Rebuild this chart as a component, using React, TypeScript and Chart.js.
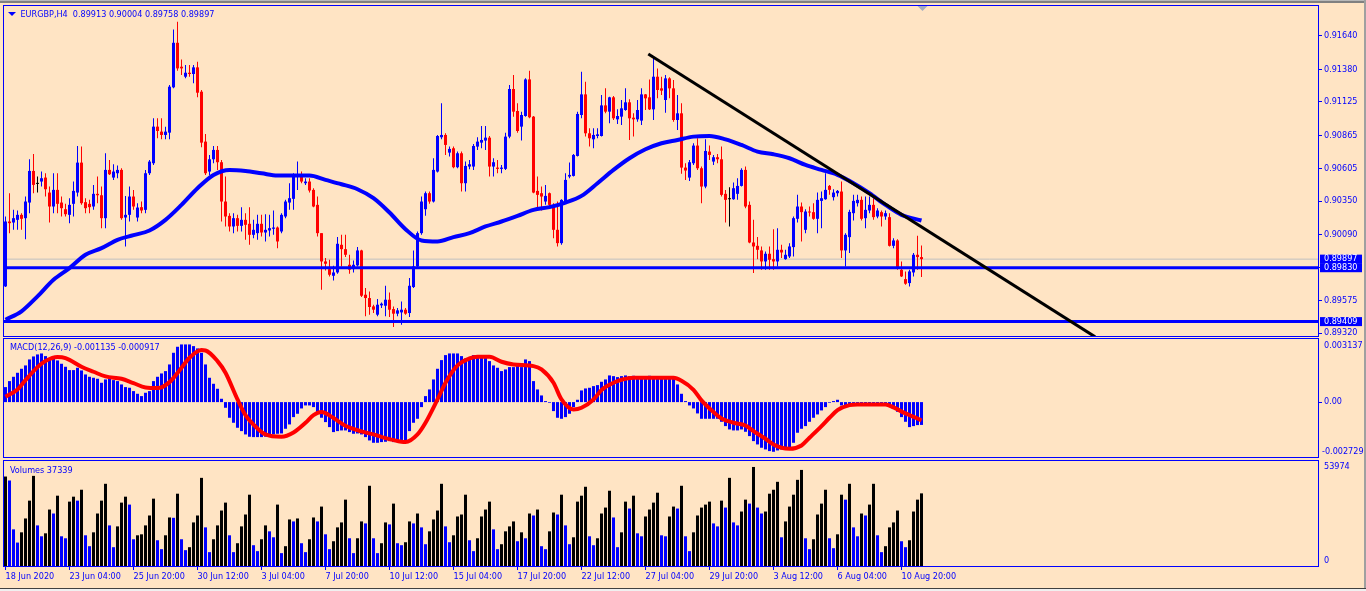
import React, { useEffect, useRef } from 'react';
import { Chart, registerables } from 'chart.js';

Chart.register(...registerables);

// ---------------- DATA ----------------
const SYMBOL = 'EURGBP,H4';

// H4 candles, [open, high, low, close]
const CANDLES: number[][] = [
  [0.89684, 0.90230, 0.89679, 0.90191], [0.90191, 0.90412, 0.90100, 0.90178], [0.90183, 0.90282, 0.90126, 0.90217], [0.90204, 0.90277, 0.90126, 0.90243], [0.90243, 0.90256, 0.90126, 0.90212],
  [0.90217, 0.90386, 0.90053, 0.90347], [0.90339, 0.90677, 0.90256, 0.90586], [0.90586, 0.90719, 0.90412, 0.90477], [0.90485, 0.90542, 0.90417, 0.90485], [0.90503, 0.90581, 0.90464, 0.90529],
  [0.90534, 0.90568, 0.90386, 0.90443], [0.90417, 0.90464, 0.90183, 0.90308], [0.90308, 0.90568, 0.90256, 0.90438], [0.90438, 0.90568, 0.90256, 0.90329], [0.90339, 0.90386, 0.90230, 0.90295],
  [0.90287, 0.90329, 0.90230, 0.90248], [0.90243, 0.90373, 0.90178, 0.90321], [0.90329, 0.90503, 0.90230, 0.90430], [0.90417, 0.90781, 0.90386, 0.90651], [0.90651, 0.90776, 0.90321, 0.90334],
  [0.90342, 0.90373, 0.90256, 0.90295], [0.90329, 0.90360, 0.90256, 0.90303], [0.90308, 0.90477, 0.90282, 0.90407], [0.90407, 0.90542, 0.90334, 0.90396], [0.90396, 0.90464, 0.90139, 0.90217],
  [0.90217, 0.90724, 0.90139, 0.90594], [0.90594, 0.90672, 0.90555, 0.90560], [0.90534, 0.90638, 0.90516, 0.90581], [0.90568, 0.90628, 0.90529, 0.90594], [0.90594, 0.90607, 0.90204, 0.90217],
  [0.90222, 0.90391, 0.89996, 0.90243], [0.90243, 0.90464, 0.90191, 0.90386], [0.90386, 0.90438, 0.90282, 0.90308], [0.90222, 0.90334, 0.90191, 0.90300], [0.90303, 0.90347, 0.90256, 0.90277],
  [0.90282, 0.90594, 0.90256, 0.90568], [0.90568, 0.90672, 0.90555, 0.90659], [0.90646, 0.90997, 0.90633, 0.90932], [0.90932, 0.90997, 0.90841, 0.90898], [0.90893, 0.90997, 0.90833, 0.90867],
  [0.90867, 0.90932, 0.90833, 0.90893], [0.90885, 0.91257, 0.90833, 0.91244], [0.91239, 0.91691, 0.91231, 0.91587], [0.91587, 0.91751, 0.91369, 0.91387], [0.91400, 0.91457, 0.91335, 0.91387],
  [0.91322, 0.91413, 0.91309, 0.91353], [0.91353, 0.91413, 0.91322, 0.91343], [0.91343, 0.91413, 0.91270, 0.91395], [0.91395, 0.91439, 0.91161, 0.91197], [0.91205, 0.91218, 0.90771, 0.90807],
  [0.90815, 0.90875, 0.90555, 0.90568], [0.90581, 0.90711, 0.90555, 0.90677], [0.90677, 0.90781, 0.90646, 0.90750], [0.90750, 0.90781, 0.90594, 0.90654], [0.90654, 0.90672, 0.90191, 0.90347],
  [0.90347, 0.90542, 0.90152, 0.90230], [0.90235, 0.90256, 0.90113, 0.90152], [0.90152, 0.90256, 0.90100, 0.90217], [0.90217, 0.90243, 0.90113, 0.90157], [0.90157, 0.90303, 0.90113, 0.90204],
  [0.90204, 0.90256, 0.90048, 0.90165], [0.90173, 0.90303, 0.90009, 0.90087], [0.90087, 0.90204, 0.90061, 0.90126], [0.90100, 0.90243, 0.90048, 0.90173], [0.90173, 0.90243, 0.90074, 0.90105],
  [0.90105, 0.90248, 0.90035, 0.90126], [0.90121, 0.90243, 0.90074, 0.90139], [0.90134, 0.90277, 0.90087, 0.90144], [0.90144, 0.90152, 0.89983, 0.90035], [0.90113, 0.90256, 0.90100, 0.90243],
  [0.90230, 0.90360, 0.90217, 0.90347], [0.90339, 0.90490, 0.90282, 0.90373], [0.90368, 0.90568, 0.90282, 0.90555], [0.90547, 0.90659, 0.90438, 0.90555], [0.90542, 0.90581, 0.90490, 0.90503],
  [0.90490, 0.90529, 0.90477, 0.90503], [0.90503, 0.90529, 0.90417, 0.90433], [0.90438, 0.90451, 0.90303, 0.90308], [0.90321, 0.90386, 0.90074, 0.90100], [0.90100, 0.90100, 0.89658, 0.89879],
  [0.89879, 0.89905, 0.89809, 0.89861], [0.89819, 0.89892, 0.89762, 0.89775], [0.89767, 0.89845, 0.89731, 0.89793], [0.89793, 0.90069, 0.89783, 0.90017], [0.90009, 0.90087, 0.89840, 0.89975],
  [0.89975, 0.90087, 0.89913, 0.89931], [0.89853, 0.89931, 0.89783, 0.89814], [0.89819, 0.89887, 0.89793, 0.89853], [0.89848, 0.89991, 0.89840, 0.89965], [0.89965, 0.89970, 0.89601, 0.89611],
  [0.89619, 0.89671, 0.89450, 0.89593], [0.89593, 0.89645, 0.89463, 0.89523], [0.89528, 0.89541, 0.89476, 0.89502], [0.89463, 0.89585, 0.89450, 0.89541], [0.89536, 0.89559, 0.89515, 0.89549],
  [0.89533, 0.89689, 0.89450, 0.89580], [0.89580, 0.89637, 0.89445, 0.89502], [0.89507, 0.89528, 0.89367, 0.89471], [0.89471, 0.89515, 0.89450, 0.89497], [0.89481, 0.89567, 0.89385, 0.89502],
  [0.89502, 0.89515, 0.89463, 0.89471], [0.89476, 0.89749, 0.89445, 0.89689], [0.89679, 0.89965, 0.89671, 0.89840], [0.89840, 0.90113, 0.89827, 0.90100], [0.90100, 0.90386, 0.90087, 0.90347],
  [0.90287, 0.90425, 0.90235, 0.90412], [0.90412, 0.90425, 0.90329, 0.90347], [0.90347, 0.90685, 0.90339, 0.90594], [0.90581, 0.90867, 0.90573, 0.90859], [0.90849, 0.91114, 0.90833, 0.90867],
  [0.90867, 0.90880, 0.90711, 0.90789], [0.90729, 0.90776, 0.90698, 0.90758], [0.90763, 0.90776, 0.90607, 0.90615], [0.90615, 0.90737, 0.90607, 0.90724], [0.90724, 0.90737, 0.90425, 0.90490],
  [0.90490, 0.90659, 0.90425, 0.90625], [0.90620, 0.90672, 0.90599, 0.90638], [0.90620, 0.90797, 0.90594, 0.90781], [0.90776, 0.90849, 0.90750, 0.90815], [0.90807, 0.90937, 0.90763, 0.90828],
  [0.90823, 0.90937, 0.90750, 0.90846], [0.90846, 0.90859, 0.90542, 0.90620], [0.90620, 0.90685, 0.90542, 0.90654], [0.90612, 0.90672, 0.90568, 0.90602], [0.90602, 0.90633, 0.90568, 0.90612],
  [0.90602, 0.90885, 0.90594, 0.90854], [0.90854, 0.91257, 0.90841, 0.91226], [0.91226, 0.91335, 0.91010, 0.91049], [0.91054, 0.91114, 0.90885, 0.90898], [0.90932, 0.91049, 0.90823, 0.91023],
  [0.91015, 0.91309, 0.91010, 0.91301], [0.91301, 0.91369, 0.90997, 0.91005], [0.91010, 0.91015, 0.90412, 0.90417], [0.90430, 0.90542, 0.90282, 0.90399], [0.90412, 0.90464, 0.90277, 0.90386],
  [0.90347, 0.90477, 0.90321, 0.90391], [0.90412, 0.90417, 0.90295, 0.90321], [0.90321, 0.90334, 0.90061, 0.90126], [0.90126, 0.90347, 0.89996, 0.90022], [0.90022, 0.90365, 0.90009, 0.90360],
  [0.90347, 0.90568, 0.90339, 0.90516], [0.90542, 0.90651, 0.90529, 0.90555], [0.90547, 0.90719, 0.90542, 0.90711], [0.90703, 0.91049, 0.90698, 0.91031], [0.91023, 0.91361, 0.90997, 0.91184],
  [0.91184, 0.91283, 0.90854, 0.90880], [0.90880, 0.90919, 0.90776, 0.90841], [0.90833, 0.90919, 0.90763, 0.90867], [0.90859, 0.90919, 0.90841, 0.90872], [0.90859, 0.91179, 0.90854, 0.91098],
  [0.91098, 0.91231, 0.91036, 0.91049], [0.91049, 0.91166, 0.90958, 0.91161], [0.91161, 0.91171, 0.90984, 0.90997], [0.90989, 0.91067, 0.90953, 0.91015], [0.91010, 0.91140, 0.90945, 0.91075],
  [0.91062, 0.91231, 0.91057, 0.91122], [0.91122, 0.91145, 0.90828, 0.90997], [0.91002, 0.91036, 0.90854, 0.90989], [0.90989, 0.91140, 0.90971, 0.91062], [0.90979, 0.91231, 0.90945, 0.91184],
  [0.91184, 0.91187, 0.91062, 0.91153], [0.91161, 0.91301, 0.91062, 0.91067], [0.91067, 0.91483, 0.90984, 0.91322], [0.91322, 0.91387, 0.91153, 0.91218], [0.91231, 0.91322, 0.91179, 0.91213],
  [0.91140, 0.91335, 0.91041, 0.91309], [0.91309, 0.91317, 0.91153, 0.91231], [0.91231, 0.91296, 0.90971, 0.90984], [0.90984, 0.91179, 0.90906, 0.91036], [0.91036, 0.91114, 0.90563, 0.90612],
  [0.90612, 0.90646, 0.90516, 0.90589], [0.90534, 0.90672, 0.90508, 0.90654], [0.90646, 0.90802, 0.90633, 0.90784], [0.90784, 0.90841, 0.90594, 0.90607], [0.90607, 0.90620, 0.90334, 0.90464],
  [0.90464, 0.90833, 0.90451, 0.90742], [0.90737, 0.90784, 0.90672, 0.90711], [0.90659, 0.90711, 0.90633, 0.90693], [0.90693, 0.90719, 0.90646, 0.90677], [0.90677, 0.90776, 0.90386, 0.90399],
  [0.90407, 0.90438, 0.90183, 0.90360], [0.90365, 0.90459, 0.90152, 0.90365], [0.90365, 0.90495, 0.90360, 0.90451], [0.90407, 0.90529, 0.90360, 0.90469], [0.90469, 0.90607, 0.90464, 0.90594],
  [0.90594, 0.90620, 0.90295, 0.90308], [0.90321, 0.90347, 0.90022, 0.90027], [0.90027, 0.90204, 0.89788, 0.89996], [0.90001, 0.90069, 0.89897, 0.89970], [0.89965, 0.89996, 0.89814, 0.89879],
  [0.89879, 0.89957, 0.89814, 0.89939], [0.89939, 0.89996, 0.89814, 0.89892], [0.89897, 0.90131, 0.89814, 0.89879], [0.89879, 0.90139, 0.89840, 0.89970], [0.89970, 0.90009, 0.89905, 0.89949],
  [0.89897, 0.89970, 0.89892, 0.89931], [0.89918, 0.90022, 0.89905, 0.89996], [0.89991, 0.90230, 0.89918, 0.90217], [0.90212, 0.90399, 0.90183, 0.90308], [0.90308, 0.90339, 0.90035, 0.90264],
  [0.90126, 0.90287, 0.90100, 0.90269], [0.90269, 0.90308, 0.90230, 0.90261], [0.90264, 0.90334, 0.90204, 0.90212], [0.90212, 0.90417, 0.90100, 0.90360], [0.90352, 0.90425, 0.90139, 0.90373],
  [0.90365, 0.90568, 0.90360, 0.90438], [0.90469, 0.90477, 0.90399, 0.90438], [0.90381, 0.90443, 0.90355, 0.90417], [0.90412, 0.90438, 0.90386, 0.90430], [0.90425, 0.90503, 0.89905, 0.89965],
  [0.89965, 0.90100, 0.89840, 0.90087], [0.90069, 0.90282, 0.89944, 0.90266], [0.90256, 0.90399, 0.90199, 0.90352], [0.90334, 0.90399, 0.90308, 0.90360], [0.90360, 0.90386, 0.90199, 0.90212],
  [0.90217, 0.90386, 0.90139, 0.90282], [0.90277, 0.90386, 0.90256, 0.90321], [0.90321, 0.90373, 0.90204, 0.90225], [0.90230, 0.90295, 0.90217, 0.90277], [0.90264, 0.90277, 0.90152, 0.90230],
  [0.90230, 0.90277, 0.90204, 0.90256], [0.90225, 0.90256, 0.89996, 0.90001], [0.90001, 0.90061, 0.89983, 0.90043], [0.90043, 0.90053, 0.89814, 0.89827], [0.89814, 0.89879, 0.89757, 0.89762],
  [0.89741, 0.89801, 0.89697, 0.89705], [0.89710, 0.89814, 0.89684, 0.89801], [0.89793, 0.89944, 0.89762, 0.89931], [0.89931, 0.90079, 0.89814, 0.89913], [0.89913, 0.90004, 0.89758, 0.89897],
];

// Moving average: [bar index, price]
const MA_POINTS: number[][] = [
  [0, 0.89424], [4, 0.89489], [8, 0.89606], [12, 0.89736], [16, 0.89827], [20, 0.89931], [24, 0.89983], [28, 0.90048],
  [32, 0.90084], [36, 0.90121], [40, 0.90204], [44, 0.90321], [48, 0.90451], [52, 0.90555], [56, 0.90594], [60, 0.90586],
  [64, 0.90568], [68, 0.90550], [72, 0.90550], [76, 0.90550], [80, 0.90516], [84, 0.90482], [88, 0.90443], [92, 0.90373],
  [96, 0.90261], [100, 0.90131], [104, 0.90043], [108, 0.90035], [112, 0.90069], [116, 0.90100], [120, 0.90152], [124, 0.90191],
  [128, 0.90235], [132, 0.90282], [136, 0.90303], [140, 0.90339], [144, 0.90391], [148, 0.90490], [152, 0.90594], [156, 0.90685],
  [160, 0.90755], [164, 0.90802], [168, 0.90828], [172, 0.90854], [176, 0.90859], [180, 0.90833], [184, 0.90789], [188, 0.90737],
  [192, 0.90716], [196, 0.90685], [200, 0.90633], [204, 0.90594], [208, 0.90555], [212, 0.90490], [216, 0.90412], [220, 0.90321],
  [224, 0.90243], [229, 0.90199],
];

const PRICE_TICKS = [0.9164, 0.9138, 0.91125, 0.90865, 0.90605, 0.9035, 0.9009, 0.8983, 0.89575, 0.8932];
const PRICE_RANGE = [0.892966, 0.918743];
const SUPPORT_LEVELS = [0.8983, 0.89409];
const BID_PRICE = 0.89897;
const PRICE_BOXES = [0.89897, 0.8983, 0.89409];
// trend line anchors: [bar index, price]
const TRENDLINE: number[][] = [[160.7, 0.91499], [272.4, 0.8929]];

// MACD main (histogram)
const MACD_HIST: number[] = [
  0.000746, 0.001044, 0.001259, 0.001458, 0.001657, 0.001823, 0.002121, 0.002270, 0.002370, 0.002419,
  0.002287, 0.002171, 0.002171, 0.002071, 0.001906, 0.001756, 0.001591, 0.001591, 0.001707, 0.001574,
  0.001375, 0.001259, 0.001210, 0.001160, 0.000961, 0.001127, 0.001160, 0.001094, 0.001044, 0.000878,
  0.000746, 0.000713, 0.000547, 0.000414, 0.000298, 0.000464, 0.000547, 0.001044, 0.001259, 0.001425,
  0.001541, 0.001872, 0.002452, 0.002751, 0.002867, 0.002867, 0.002867, 0.002784, 0.002668, 0.002452,
  0.001872, 0.001210, 0.000911, 0.000663, 0.000166, -0.000282, -0.000779, -0.001027, -0.001276, -0.001442,
  -0.001607, -0.001723, -0.001740, -0.001740, -0.001740, -0.001723, -0.001640, -0.001607, -0.001574, -0.001558,
  -0.001326, -0.001110, -0.000746, -0.000580, -0.000315, -0.000166, -0.000166, -0.000249, -0.000497, -0.000779,
  -0.000994, -0.001243, -0.001491, -0.001442, -0.001408, -0.001408, -0.001491, -0.001574, -0.001558, -0.001607,
  -0.001740, -0.001906, -0.002022, -0.002022, -0.001988, -0.001972, -0.001939, -0.001988, -0.001988, -0.001939,
  -0.001906, -0.001442, -0.001027, -0.000829, -0.000249, 0.000298, 0.000630, 0.001127, 0.001657, 0.002088,
  0.002336, 0.002419, 0.002419, 0.002419, 0.002287, 0.002171, 0.002204, 0.002336, 0.002336, 0.002336,
  0.002237, 0.002038, 0.001823, 0.001707, 0.001541, 0.001624, 0.001740, 0.001740, 0.001823, 0.001740,
  0.002121, 0.002038, 0.001044, 0.000630, 0.000331, 0.000050, -0.000033, -0.000447, -0.000779, -0.000829,
  -0.000746, -0.000580, -0.000249, 0.000116, 0.000580, 0.000679, 0.000713, 0.000795, 0.000845, 0.001011,
  0.001127, 0.001326, 0.001292, 0.001243, 0.001292, 0.001326, 0.001292, 0.001309, 0.001292, 0.001276,
  0.001292, 0.001309, 0.001292, 0.001292, 0.001276, 0.001292, 0.001292, 0.001276, 0.000878, 0.000414,
  0.000050, -0.000166, -0.000315, -0.000563, -0.000829, -0.000829, -0.000829, -0.000829, -0.000829, -0.000978,
  -0.001193, -0.001359, -0.001408, -0.001408, -0.001359, -0.001475, -0.001690, -0.001939, -0.002104, -0.002270,
  -0.002353, -0.002436, -0.002469, -0.002403, -0.002353, -0.002353, -0.002270, -0.002022, -0.001524, -0.001326,
  -0.001193, -0.000978, -0.000779, -0.000613, -0.000414, -0.000249, -0.000033, 0.000050, 0.000116, -0.000166,
  -0.000166, -0.000149, -0.000116, -0.000116, -0.000149, -0.000149, -0.000149, -0.000149, -0.000149, -0.000116,
  -0.000116, -0.000149, -0.000282, -0.000481, -0.000746, -0.000978, -0.001243, -0.001193, -0.001143, -0.001135,
];

// MACD signal line: [bar index, value]
const MACD_SIGNAL: number[][] = [
  [0, 0.000265], [3, 0.00063], [5, 0.001094], [8, 0.00174], [10, 0.002038], [13, 0.002237], [15, 0.002187], [19, 0.001756],
  [22, 0.001508], [25, 0.001276], [29, 0.00116], [32, 0.000944], [35, 0.000729], [38, 0.000696], [41, 0.000994], [44, 0.001707],
  [46, 0.002204], [49, 0.002585], [50, 0.002568], [53, 0.002038], [55, 0.001458], [58, 0.000133], [60, -0.000646], [63, -0.001309],
  [65, -0.001607], [69, -0.001723], [72, -0.001508], [75, -0.001027], [77, -0.000646], [79, -0.000497], [82, -0.000795], [85, -0.001176],
  [89, -0.001458], [92, -0.001607], [95, -0.00179], [99, -0.001972], [100, -0.001988], [103, -0.001607], [105, -0.001027], [108, 0.000133],
  [110, 0.000961], [113, 0.001823], [116, 0.002171], [118, 0.002254], [121, 0.002254], [124, 0.002005], [127, 0.001872], [132, 0.00179],
  [134, 0.001624], [137, 0.000961], [139, 0.000133], [142, -0.000365], [144, -0.000282], [147, 0.000133], [149, 0.000597], [152, 0.000961],
  [154, 0.00111], [157, 0.00121], [160, 0.00121], [164, 0.00121], [167, 0.00121], [169, 0.00106], [172, 0.000613], [174, 0.000083],
  [177, -0.000497], [179, -0.000812], [182, -0.001027], [185, -0.00116], [187, -0.001442], [190, -0.001823], [192, -0.002104], [194, -0.00227],
  [196, -0.00232], [199, -0.002154], [201, -0.001773], [204, -0.001193], [206, -0.000779], [208, -0.000398], [211, -0.000149], [213, -0.000116],
  [217, -0.000116], [220, -0.000116], [222, -0.000265], [225, -0.000563], [228, -0.000812], [229, -0.000917],
];
const MACD_RANGE = [-0.002729, 0.003137];

const VOLUMES: number[] = [
  45989, 43952, 18837, 12049, 17309, 24437, 33601, 46328, 20873, 15273,
  16800, 29019, 26982, 36146, 15273, 14255, 33092, 35637, 33601, 39201,
  15782, 10182, 17309, 26982, 33601, 42255, 20873, 9673, 20364, 32582,
  35637, 31564, 13746, 15782, 16291, 20873, 25964, 34619, 13237, 8655,
  15782, 24946, 24776, 37164, 13746, 8146, 9673, 22400, 25964, 45310,
  19855, 7127, 13746, 20873, 28510, 32582, 15782, 7127, 11709, 20364,
  26473, 36655, 10691, 7637, 13746, 20873, 17819, 14764, 31564, 6618,
  10182, 23928, 22910, 24437, 11709, 7127, 13746, 24946, 22910, 30546,
  16291, 8655, 12728, 19855, 22400, 34110, 14255, 6618, 14255, 22910,
  21891, 41237, 14255, 6618, 11709, 22400, 21382, 32073, 11709, 10691,
  12218, 22910, 21891, 26982, 19855, 11200, 17819, 23928, 28510, 42255,
  20364, 12218, 15782, 25455, 26473, 36655, 13237, 7637, 14255, 25455,
  29019, 33092, 18837, 8655, 11200, 17819, 20364, 22910, 12728, 17309,
  14255, 26982, 25964, 29019, 10182, 8655, 17819, 27491, 26473, 36655,
  20873, 11200, 14764, 33092, 36146, 40728, 15273, 10691, 14255, 26982,
  30037, 38692, 24946, 9673, 17309, 33092, 29528, 36146, 16800, 15273,
  25455, 29019, 32582, 37673, 15782, 15273, 25455, 30546, 29528, 41237,
  15273, 7637, 17309, 25964, 30037, 31564, 33092, 21891, 20364, 33601,
  30037, 45310, 22400, 20873, 28001, 34110, 32073, 50910, 30037, 26982,
  28001, 37164, 39201, 43274, 14764, 22910, 30546, 36655, 44292, 49383,
  14255, 8655, 13746, 26473, 32073, 39201, 14255, 9164, 16291, 36655,
  34110, 42255, 19855, 15273, 26982, 25964, 31564, 42255, 15782, 7127,
  10182, 19855, 22400, 28510, 12728, 9673, 13237, 28001, 34110, 37339,
];
const VOLUME_MAX = 53974;

const TIME_LABEL_BARS = [0, 16, 32, 48, 64, 80, 96, 112, 128, 144, 160, 176, 192, 208, 224];
const TIME_LABELS = [
  '18 Jun 2020', '23 Jun 04:00', '25 Jun 20:00', '30 Jun 12:00', '3 Jul 04:00', '7 Jul 20:00', '10 Jul 12:00',
  '15 Jul 04:00', '17 Jul 20:00', '22 Jul 12:00', '27 Jul 04:00', '29 Jul 20:00', '3 Aug 12:00', '6 Aug 04:00', '10 Aug 20:00',
];
const BAR_RANGE = [-0.375, 328.125];

// ---------------- STYLE ----------------
const W = 1366;
const H = 591;
const AXIS_W = 48;
const FONT = '"DejaVu Sans Condensed", "Liberation Sans", Arial, sans-serif';
const BG = '#FFE4C4';
const BLUE = '#0000FF';
const RED = '#FF0000';
const BLACK = '#000000';

const noPad = (s: any) => {
  s.paddingTop = 0;
  s.paddingBottom = 0;
  s.paddingLeft = 0;
  s.paddingRight = 0;
};

function baseOptions(padding: any) {
  return {
    responsive: false,
    maintainAspectRatio: false,
    animation: false,
    devicePixelRatio: 1,
    events: [],
    layout: { padding },
    plugins: { legend: { display: false }, tooltip: { enabled: false }, title: { display: false } },
  };
}

function hiddenX() {
  return { type: 'linear', min: BAR_RANGE[0], max: BAR_RANGE[1], offset: false, display: false, grid: { offset: false } };
}

function blankRightAxis(min: number, max: number) {
  return {
    type: 'linear',
    position: 'right',
    min,
    max,
    beginAtZero: false,
    grid: { display: false },
    border: { display: false },
    ticks: { display: false },
    afterFit: (s: any) => {
      s.width = AXIS_W;
      noPad(s);
    },
  };
}

function drawBorder(ctx: any, a: any) {
  ctx.strokeStyle = BLUE;
  ctx.lineWidth = 1;
  ctx.strokeRect(a.left - 0.5, a.top - 0.5, a.right - a.left + 1, a.bottom - a.top + 1);
}

const fmt5 = (v: number) => v.toFixed(5);

function mainConfig(): any {
  const colors = CANDLES.map(([o, , , c]) => (c > o ? BLUE : c < o ? RED : BLACK));
  const last = CANDLES[CANDLES.length - 1];
  const header = `${SYMBOL}  ${fmt5(last[0])} ${fmt5(last[1])} ${fmt5(last[2])} ${fmt5(last[3])}`;
  const overlay = {
    id: 'mainOverlay',
    afterDraw(chart: any) {
      const { ctx, chartArea: a, scales } = chart;
      ctx.save();
      drawBorder(ctx, a);
      ctx.fillStyle = BLUE;
      ctx.beginPath();
      ctx.moveTo(8, 12);
      ctx.lineTo(16, 12);
      ctx.lineTo(12, 16);
      ctx.closePath();
      ctx.fill();
      ctx.font = `9px ${FONT}`;
      ctx.textAlign = 'left';
      ctx.textBaseline = 'alphabetic';
      ctx.fillText(header, 20.5, 17);
      // shift marker
      const mx = scales.x.getPixelForValue(CANDLES.length - 1) + 1;
      ctx.fillStyle = '#A4ACC0';
      ctx.beginPath();
      ctx.moveTo(mx - 5, a.top);
      ctx.lineTo(mx + 5, a.top);
      ctx.lineTo(mx, a.top + 5);
      ctx.closePath();
      ctx.fill();
      // price boxes
      ctx.textBaseline = 'middle';
      PRICE_BOXES.forEach((v) => {
        const y = scales.y.getPixelForValue(v);
        ctx.fillStyle = BLUE;
        ctx.fillRect(a.right + 2, y - 4.5, 42, 9);
        ctx.fillStyle = '#FFFFFF';
        ctx.fillText(fmt5(v), a.right + 6, y);
      });
      ctx.restore();
    },
  };
  const hLine = (y: number, color: string, width: number, order: number) => ({
    type: 'line',
    data: [
      { x: BAR_RANGE[0], y },
      { x: BAR_RANGE[1], y },
    ],
    borderColor: color,
    borderWidth: width,
    pointRadius: 0,
    order,
  });
  return {
    type: 'bar',
    data: {
      datasets: [
        {
          type: 'line',
          data: TRENDLINE.map(([x, y]) => ({ x, y })),
          borderColor: BLACK,
          borderWidth: 3,
          pointRadius: 0,
          order: 0,
        },
        ...SUPPORT_LEVELS.map((l) => hLine(l, BLUE, 3, 0)),
        {
          type: 'line',
          data: MA_POINTS.map(([x, y]) => ({ x, y })),
          borderColor: BLUE,
          borderWidth: 4,
          pointRadius: 0,
          cubicInterpolationMode: 'monotone',
          order: 1,
        },
        {
          type: 'bar',
          data: CANDLES.map((c, i) => ({ x: i, y: [c[0], c[3]] })),
          backgroundColor: colors,
          barThickness: 3,
          grouped: false,
          minBarLength: 1,
          inflateAmount: 0,
          borderWidth: 0,
          order: 2,
        },
        {
          type: 'bar',
          data: CANDLES.map((c, i) => ({ x: i, y: [c[2], c[1]] })),
          backgroundColor: colors,
          barThickness: 1,
          grouped: false,
          minBarLength: 1,
          inflateAmount: 0,
          borderWidth: 0,
          order: 3,
        },
        hLine(BID_PRICE, '#C0C0C0', 1, 4),
      ],
    },
    options: {
      ...baseOptions({ left: 4, top: 6, right: 0, bottom: H - 336 }),
      scales: {
        x: hiddenX(),
        y: {
          type: 'linear',
          position: 'right',
          min: PRICE_RANGE[0],
          max: PRICE_RANGE[1],
          beginAtZero: false,
          grid: { display: true, drawOnChartArea: false, drawTicks: true, tickLength: 4, color: BLUE },
          border: { display: false },
          ticks: {
            color: BLUE,
            font: { family: FONT, size: 9, lineHeight: 1 },
            padding: 2,
            autoSkip: false,
            callback: (v: any) => Number(v).toFixed(5),
          },
          afterBuildTicks: (s: any) => {
            s.ticks = PRICE_TICKS.map((value) => ({ value }));
          },
          afterFit: (s: any) => {
            s.width = AXIS_W;
            noPad(s);
          },
        },
      },
    },
    plugins: [overlay],
  };
}

function macdConfig(): any {
  const sigLast = MACD_SIGNAL[MACD_SIGNAL.length - 1][1];
  const title = `MACD(12,26,9) ${MACD_HIST[MACD_HIST.length - 1].toFixed(6)} ${sigLast.toFixed(6)}`;
  const overlay = {
    id: 'macdOverlay',
    afterDraw(chart: any) {
      const { ctx, chartArea: a, scales } = chart;
      ctx.save();
      drawBorder(ctx, a);
      ctx.fillStyle = BLUE;
      ctx.font = `9px ${FONT}`;
      ctx.textAlign = 'left';
      ctx.textBaseline = 'alphabetic';
      ctx.fillText(title, 10, 350);
      ctx.textBaseline = 'middle';
      const y0 = scales.y.getPixelForValue(0);
      ctx.fillRect(a.right + 1, Math.round(y0), 3, 1);
      ctx.fillText(MACD_RANGE[1].toFixed(6), a.right + 6, a.top + 7);
      ctx.fillText('0.00', a.right + 6, y0);
      ctx.fillText(MACD_RANGE[0].toFixed(6), a.right + 4, a.bottom - 5);
      ctx.restore();
    },
  };
  return {
    type: 'bar',
    data: {
      datasets: [
        {
          type: 'line',
          data: MACD_SIGNAL.map(([x, y]) => ({ x, y })),
          borderColor: RED,
          borderWidth: 4,
          pointRadius: 0,
          cubicInterpolationMode: 'monotone',
          order: 0,
        },
        {
          type: 'bar',
          data: MACD_HIST.map((v, i) => ({ x: i, y: v })),
          backgroundColor: BLUE,
          barThickness: 3,
          grouped: false,
          inflateAmount: 0,
          borderWidth: 0,
          order: 1,
        },
      ],
    },
    options: {
      ...baseOptions({ left: 4, top: 339, right: 0, bottom: H - 457 }),
      scales: { x: hiddenX(), y: blankRightAxis(MACD_RANGE[0], MACD_RANGE[1]) },
    },
    plugins: [overlay],
  };
}

function volumeConfig(): any {
  const colors = VOLUMES.map((v, i) => (i === 0 || v > VOLUMES[i - 1] ? BLACK : BLUE));
  const title = `Volumes ${VOLUMES[VOLUMES.length - 1]}`;
  const overlay = {
    id: 'volOverlay',
    afterDraw(chart: any) {
      const { ctx, chartArea: a } = chart;
      ctx.save();
      drawBorder(ctx, a);
      ctx.fillStyle = BLUE;
      ctx.font = `9px ${FONT}`;
      ctx.textAlign = 'left';
      ctx.textBaseline = 'alphabetic';
      ctx.fillText(title, 10, 473);
      ctx.textBaseline = 'middle';
      ctx.fillText(String(VOLUME_MAX), a.right + 6, a.top + 6);
      ctx.fillText('0', a.right + 6, a.bottom - 5);
      ctx.restore();
    },
  };
  return {
    type: 'bar',
    data: {
      datasets: [
        {
          type: 'bar',
          data: VOLUMES.map((v, i) => ({ x: i, y: v })),
          backgroundColor: colors,
          barThickness: 3,
          grouped: false,
          inflateAmount: 0,
          borderWidth: 0,
        },
      ],
    },
    options: {
      ...baseOptions({ left: 4, top: 461, right: 0, bottom: 0 }),
      scales: {
        x: {
          type: 'linear',
          position: 'bottom',
          min: BAR_RANGE[0],
          max: BAR_RANGE[1],
          offset: false,
          grid: { display: true, offset: false, drawOnChartArea: false, drawTicks: true, tickLength: 4, color: BLUE },
          border: { display: false },
          ticks: {
            color: BLUE,
            font: { family: FONT, size: 9, lineHeight: 1.2 },
            padding: 1,
            autoSkip: false,
            maxRotation: 0,
            minRotation: 0,
            align: 'start',
            callback: (v: any) => {
              const k = TIME_LABEL_BARS.indexOf(Number(v));
              return k >= 0 ? TIME_LABELS[k] : '';
            },
          },
          afterBuildTicks: (s: any) => {
            s.ticks = TIME_LABEL_BARS.map((value) => ({ value }));
          },
          afterFit: (s: any) => {
            s.height = H - 566;
            noPad(s);
          },
        },
        y: blankRightAxis(0, VOLUME_MAX),
      },
    },
    plugins: [overlay],
  };
}

export default function App() {
  const mainRef = useRef<HTMLCanvasElement>(null);
  const macdRef = useRef<HTMLCanvasElement>(null);
  const volRef = useRef<HTMLCanvasElement>(null);

  useEffect(() => {
    const charts = [
      new Chart(mainRef.current as HTMLCanvasElement, mainConfig()),
      new Chart(macdRef.current as HTMLCanvasElement, macdConfig()),
      new Chart(volRef.current as HTMLCanvasElement, volumeConfig()),
    ];
    return () => charts.forEach((c) => c.destroy());
  }, []);

  const cv: React.CSSProperties = { position: 'absolute', left: 0, top: 0, width: W, height: H };
  const strip = (s: React.CSSProperties): React.CSSProperties => ({ position: 'absolute', ...s });

  return (
    <div style={{ position: 'absolute', left: 0, top: 0, width: W, height: H, background: BG, overflow: 'hidden' }}>
      <canvas ref={mainRef} width={W} height={H} style={cv} />
      <canvas ref={macdRef} width={W} height={H} style={cv} />
      <canvas ref={volRef} width={W} height={H} style={cv} />
      <div style={strip({ left: 0, top: 0, width: W, height: 1, background: '#B8B8B8' })} />
      <div style={strip({ left: 0, top: 1, width: W, height: 2, background: '#808080' })} />
      <div style={strip({ left: W - 2, top: 0, width: 2, height: H, background: '#A0A0A0' })} />
      <div style={strip({ left: 0, top: 588, width: W, height: 1, background: '#404040' })} />
      <div style={strip({ left: 0, top: 589, width: W, height: 2, background: '#F0F0F0' })} />
    </div>
  );
}
